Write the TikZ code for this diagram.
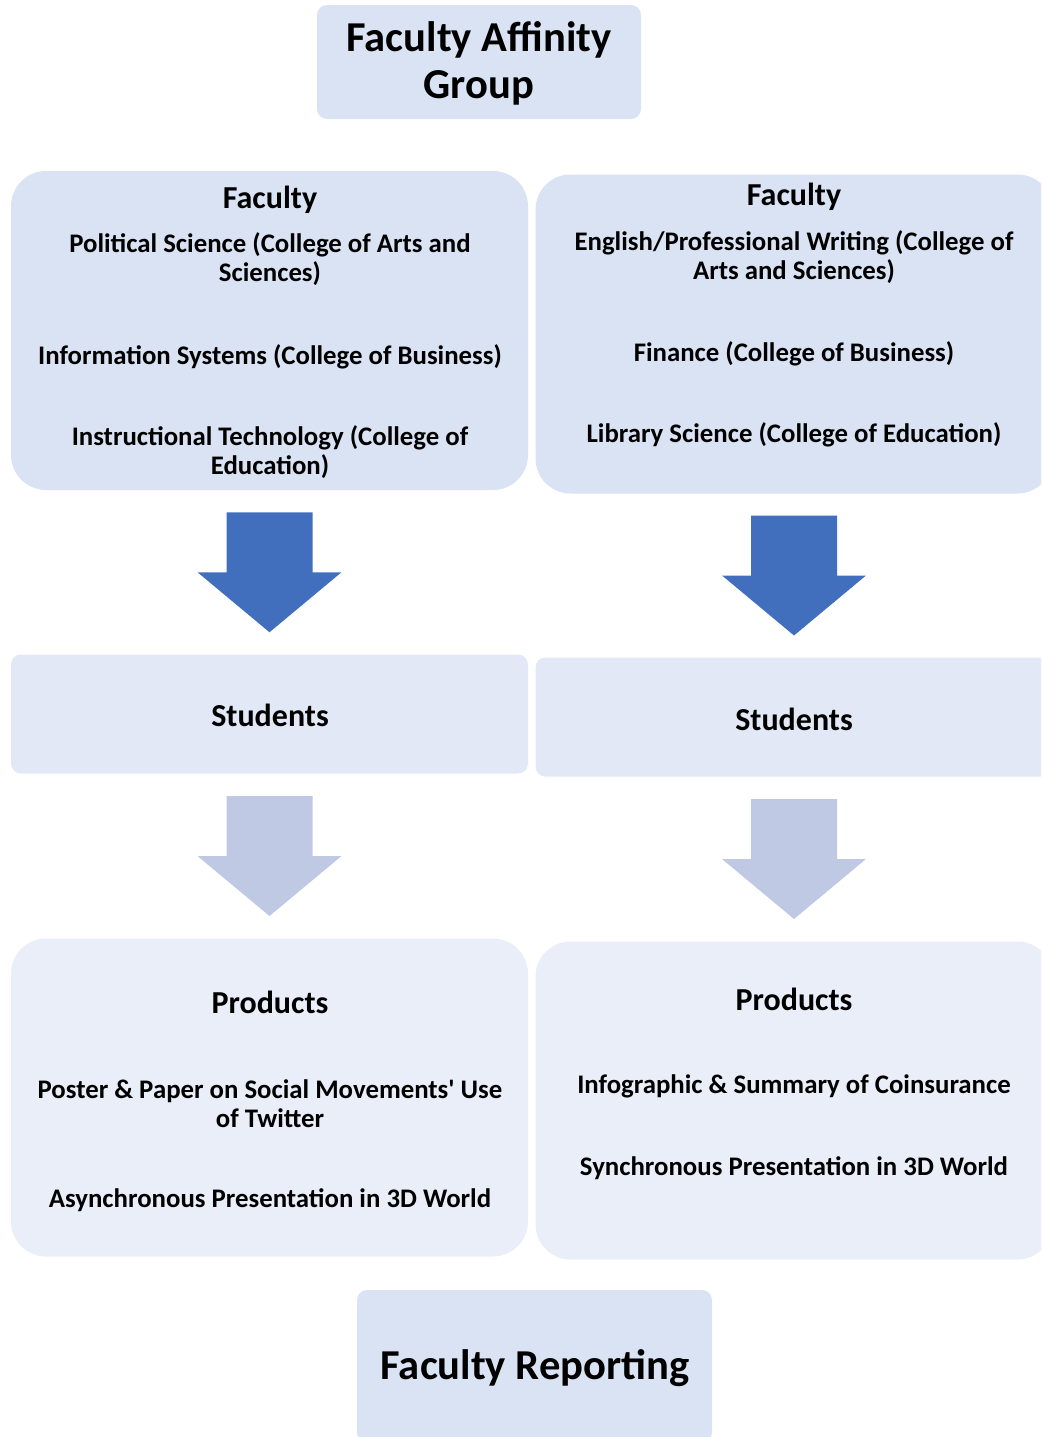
\documentclass[tikz,border=0pt]{standalone}
\usepackage{fontspec}
\setmainfont{Carlito}
\usepackage{xcolor}
\definecolor{facblue}{RGB}{218,227,243}
\definecolor{stublue}{RGB}{226,232,245}
\definecolor{prodblue}{RGB}{233,238,248}
\definecolor{arrdark}{RGB}{65,111,190}
\definecolor{arrlight}{RGB}{191,201,228}
\usetikzlibrary{positioning,calc}
\newcommand{\blockarrow}[3]{%
  \fill[#3] ($(#1.south)!0.5!(#2.north)$) +(-43,60) -- +(43,60) -- +(43,0) -- +(72,0)
    -- +(0,-60) -- +(-72,0) -- +(-43,0) -- cycle;}
\tikzset{
  titlebox/.style={rounded corners=10pt, fill=facblue, minimum width=324pt, minimum height=114pt, inner sep=0},
  facbox/.style={rounded corners=35pt, fill=facblue, minimum width=517pt, minimum height=319pt, inner sep=0},
  stubox/.style={rounded corners=10pt, fill=stublue, minimum width=517pt, minimum height=119pt, inner sep=0},
  prodbox/.style={rounded corners=35pt, fill=prodblue, minimum width=517pt, minimum height=318pt, inner sep=0},
  txt/.style={font=\bfseries\fontsize{26.8}{29}\selectfont, align=center, inner sep=0},
  head/.style={font=\bfseries\fontsize{32}{38}\selectfont, align=center, inner sep=0},
  big/.style={font=\bfseries\fontsize{42.6}{47}\selectfont, align=center, inner sep=0}
}
\begin{document}
\begin{tikzpicture}[x=1pt, y=1pt]
  \useasboundingbox (0,0) rectangle (1041,-1437);
  \clip (0,0) rectangle (1041,-1437);
  % boxes
  \node[titlebox] (title) at (479,-62) {};
  \node[facbox] (facL) at (269.5,-330.5) {};
  \node[facbox] (facR) at (794,-334) {};
  \node[stubox] (stuL) at (269.5,-714) {};
  \node[stubox] (stuR) at (794,-717) {};
  \node[prodbox] (prodL) at (269.5,-1097.5) {};
  \node[prodbox] (prodR) at (794,-1100.5) {};
  \node[titlebox, minimum width=355pt, minimum height=152pt] (report) at (534.5,-1366) {};
  % texts
  \node[big] (titletxt) at (479,-63.5) {Faculty Affinity\\Group};
  \node[head] (facLhd) at (270,-200) {Faculty};
  \node[txt] (facL1) at (270,-259.5) {Political Science (College of Arts and\\Sciences)};
  \node[txt] (facL2) at (270,-357) {Information Systems (College of Business)};
  \node[txt] (facL3) at (270,-452.5) {Instructional Technology (College of\\Education)};
  \node[head] (facRhd) at (794,-197) {Faculty};
  \node[txt] (facR1) at (794,-257.5) {English/Professional Writing (College of\\Arts and Sciences)};
  \node[txt] (facR2) at (794,-354) {Finance (College of Business)};
  \node[txt] (facR3) at (794,-435) {Library Science (College of Education)};
  \node[head] (stuLhd) at (270,-715) {Students};
  \node[head] (stuRhd) at (794,-719) {Students};
  \node[head] (prodLhd) at (270,-1002) {Products};
  \node[txt] (prodL1) at (270,-1103.5) {Poster \& Paper on Social Movements\textquotesingle\ Use\\of Twitter};
  \node[txt] (prodL2) at (270,-1200) {Asynchronous Presentation in 3D World};
  \node[head] (prodRhd) at (794,-999) {Products};
  \node[txt] (prodR1) at (794,-1086) {Infographic \& Summary of Coinsurance};
  \node[txt] (prodR2) at (794,-1168) {Synchronous Presentation in 3D World};
  \node[big] (reporttxt) at (535,-1368) {Faculty Reporting};
  % arrows
  \blockarrow{facL}{stuL}{arrdark}
  \blockarrow{facR}{stuR}{arrdark}
  \blockarrow{stuL}{prodL}{arrlight}
  \blockarrow{stuR}{prodR}{arrlight}
\end{tikzpicture}
\end{document}
